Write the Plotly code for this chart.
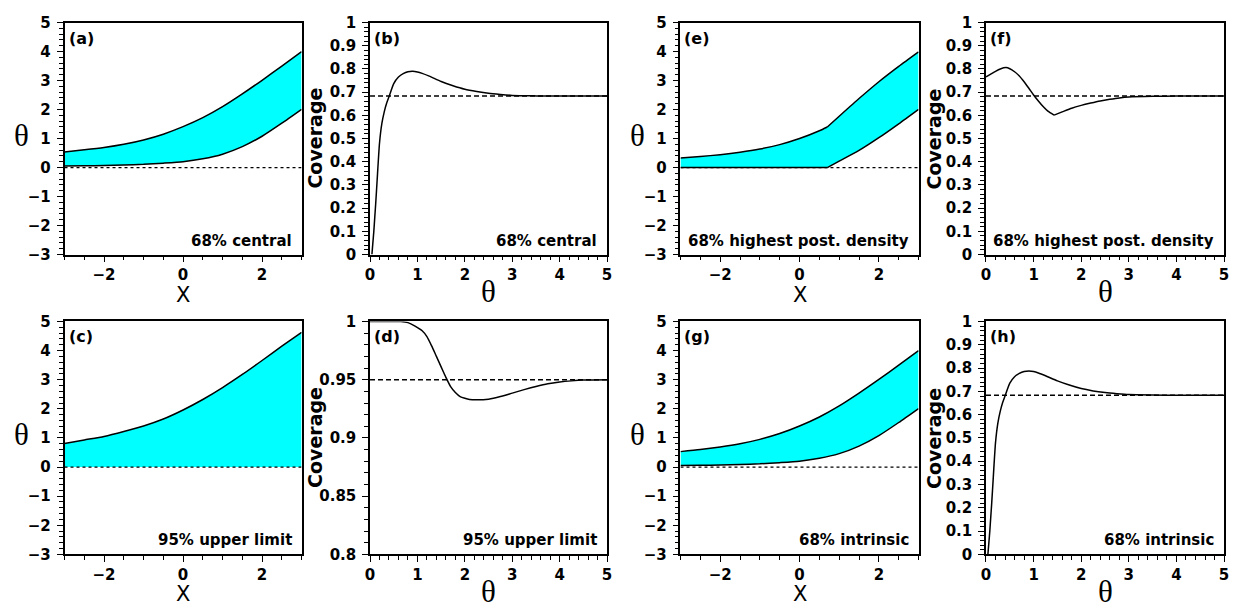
import plotly.graph_objects as go

# ---------------- data ----------------
x_band = [-3, -2.5, -2, -1.5, -1, -0.5, 0, 0.5, 1, 1.5, 2, 2.5, 3]
central_upper = [0.54, 0.61, 0.69, 0.80, 0.95, 1.15, 1.41, 1.72, 2.10, 2.54, 3.01, 3.50, 4.00]
central_lower = [0.05, 0.06, 0.07, 0.09, 0.11, 0.15, 0.20, 0.30, 0.46, 0.72, 1.08, 1.53, 2.01]

upper95 = [0.81, 0.93, 1.05, 1.22, 1.41, 1.65, 1.96, 2.32, 2.73, 3.18, 3.66, 4.15, 4.63]
upper95_lower = [0, 0, 0, 0, 0, 0, 0, 0, 0, 0, 0, 0, 0]

x_hpd = [-3, -2.5, -2, -1.5, -1, -0.5, 0, 0.5, 0.7, 1, 1.5, 2, 2.5, 3]
hpd_upper = [0.33, 0.38, 0.445, 0.53, 0.64, 0.79, 1.0, 1.27, 1.40, 1.77, 2.38, 2.96, 3.49, 3.99]
hpd_lower = [0, 0, 0, 0, 0, 0, 0, 0, 0, 0.22, 0.59, 1.03, 1.51, 2.01]

intr_upper = [0.53, 0.60, 0.69, 0.80, 0.95, 1.15, 1.41, 1.72, 2.10, 2.54, 3.01, 3.50, 4.00]
intr_lower = [0.05, 0.06, 0.07, 0.09, 0.11, 0.15, 0.20, 0.30, 0.46, 0.72, 1.08, 1.53, 2.01]

theta_cov = [0.04, 0.06, 0.08, 0.1, 0.12, 0.15, 0.2, 0.25, 0.3, 0.35, 0.4, 0.5, 0.6, 0.7, 0.8,
             0.9, 1.0, 1.1, 1.25, 1.5, 1.75, 2.0, 2.25, 2.5, 2.75, 3.0, 3.5, 4.0, 5.0]
cov_central = [0.0, 0.05, 0.10, 0.16, 0.22, 0.32, 0.48, 0.565, 0.615, 0.652, 0.68, 0.737, 0.765,
               0.78, 0.788, 0.79, 0.787, 0.781, 0.769, 0.746, 0.728, 0.713, 0.703, 0.695,
               0.69, 0.686, 0.684, 0.683, 0.683]
cov_intrinsic = [0.0, 0.05, 0.10, 0.16, 0.22, 0.32, 0.48, 0.565, 0.615, 0.652, 0.68, 0.735, 0.763,
                 0.777, 0.785, 0.787, 0.785, 0.779, 0.767, 0.745, 0.727, 0.712, 0.702, 0.695,
                 0.69, 0.686, 0.684, 0.683, 0.683]

theta_d = [0, 0.5, 0.65, 0.8, 0.95, 1.1, 1.2, 1.3, 1.4, 1.5, 1.6, 1.7, 1.8, 1.9, 2.0, 2.1,
           2.25, 2.5, 2.75, 3.0, 3.25, 3.5, 3.75, 4.0, 4.25, 4.5, 5.0]
cov_upper95 = [1, 1, 1, 0.999, 0.996, 0.992, 0.987, 0.979, 0.97, 0.961, 0.952, 0.944, 0.939,
               0.9355, 0.934, 0.933, 0.9327, 0.9333, 0.9355, 0.9385, 0.9415, 0.9442, 0.9465,
               0.948, 0.949, 0.9497, 0.95]

theta_f = [0, 0.1, 0.2, 0.3, 0.42, 0.5, 0.6, 0.7, 0.8, 0.9, 1.0, 1.1, 1.2, 1.3, 1.43,
           1.6, 1.8, 2.0, 2.2, 2.4, 2.6, 2.8, 3.0, 3.5, 4.0, 5.0]
cov_hpd = [0.766, 0.778, 0.79, 0.80, 0.806, 0.801, 0.788, 0.77, 0.745, 0.717, 0.688, 0.662,
           0.638, 0.618, 0.601, 0.615, 0.631, 0.643, 0.653, 0.662, 0.669, 0.675, 0.679,
           0.682, 0.683, 0.683]
hpd_min_theta = 1.43

nominal68 = 0.683
nominal95 = 0.95

labels = ["(a)", "(b)", "(e)", "(f)", "(c)", "(d)", "(g)", "(h)"]
texts = ["68% central", "68% central", "68% highest post. density", "68% highest post. density",
         "95% upper limit", "95% upper limit", "68% intrinsic", "68% intrinsic"]

# ---------------- layout geometry (pixels) ----------------
W, H = 1236, 609
cols = [(60, 299), (368, 607), (681, 921), (989, 1229)]
rows = [(14, 253), (322, 562)]

fig = go.Figure()

TICKFONT = dict(family="DejaVu Sans", size=15, color="black", weight="bold")
CYAN = "#00FFFF"
DASH = "5px,3px"


def axname(i):
    return "" if i == 1 else str(i)


def band(i, x, lo, hi, lo_line=True):
    n = axname(i)
    fig.add_trace(go.Scatter(x=x, y=lo, mode="lines",
                             line=dict(color="black", width=0, shape="spline", smoothing=0.6),
                             xaxis="x" + n, yaxis="y" + n, hoverinfo="skip"))
    fig.add_trace(go.Scatter(x=x, y=hi, mode="lines", fill="tonexty", fillcolor=CYAN,
                             line=dict(color="black", width=1.5, shape="spline", smoothing=0.6),
                             xaxis="x" + n, yaxis="y" + n, hoverinfo="skip"))
    fig.add_trace(go.Scatter(x=[x[0], x[-1]], y=[0, 0], mode="lines",
                             line=dict(color="black", width=1.3, dash="dot"),
                             xaxis="x" + n, yaxis="y" + n, hoverinfo="skip"))
    if lo_line:
        fig.add_trace(go.Scatter(x=x, y=lo, mode="lines",
                                 line=dict(color="black", width=1.5, shape="spline", smoothing=0.6),
                                 xaxis="x" + n, yaxis="y" + n, hoverinfo="skip"))


def band_kink(i, x, lo, hi, kink):
    n = axname(i)
    k = x.index(kink)
    fig.add_trace(go.Scatter(x=x, y=lo, mode="lines", line=dict(color="black", width=0),
                             xaxis="x" + n, yaxis="y" + n, hoverinfo="skip"))
    fig.add_trace(go.Scatter(x=x, y=hi, mode="lines", fill="tonexty", fillcolor=CYAN,
                             line=dict(color="black", width=0),
                             xaxis="x" + n, yaxis="y" + n, hoverinfo="skip"))
    fig.add_trace(go.Scatter(x=[x[0], x[-1]], y=[0, 0], mode="lines",
                             line=dict(color="black", width=1.3, dash="dot"),
                             xaxis="x" + n, yaxis="y" + n, hoverinfo="skip"))
    for arr in (lo, hi):
        for seg in (slice(0, k + 1), slice(k, None)):
            fig.add_trace(go.Scatter(x=x[seg], y=arr[seg], mode="lines",
                                     line=dict(color="black", width=1.5, shape="spline", smoothing=0.6),
                                     xaxis="x" + n, yaxis="y" + n, hoverinfo="skip"))


def coverage(i, th, cov, nominal, split=None):
    n = axname(i)
    fig.add_trace(go.Scatter(x=[0, 5], y=[nominal, nominal], mode="lines",
                             line=dict(color="black", width=1.5, dash=DASH),
                             xaxis="x" + n, yaxis="y" + n, hoverinfo="skip"))
    if split is None:
        segs = [slice(0, None)]
    else:
        k = th.index(split)
        segs = [slice(0, k + 1), slice(k, None)]
    for s in segs:
        fig.add_trace(go.Scatter(x=th[s], y=cov[s], mode="lines",
                                 line=dict(color="black", width=1.5, shape="spline", smoothing=0.6),
                                 xaxis="x" + n, yaxis="y" + n, hoverinfo="skip"))


band(1, x_band, central_lower, central_upper)
coverage(2, theta_cov, cov_central, nominal68)
band_kink(3, x_hpd, hpd_lower, hpd_upper, 0.7)
coverage(4, theta_f, cov_hpd, nominal68, split=hpd_min_theta)
band(5, x_band, upper95_lower, upper95, lo_line=False)
coverage(6, theta_d, cov_upper95, nominal95)
band(7, x_band, intr_lower, intr_upper)
coverage(8, theta_cov, cov_intrinsic, nominal68)

layout = dict(width=W, height=H, margin=dict(l=0, r=0, t=0, b=0),
              plot_bgcolor="white", paper_bgcolor="white", showlegend=False,
              hovermode=False)

annotations = []
for i in range(1, 9):
    r = 0 if i <= 4 else 1
    c = (i - 1) % 4
    l, rr = cols[c]
    t, b = rows[r]
    n = axname(i)
    is_band = c in (0, 2)
    common = dict(showline=True, linecolor="black", linewidth=1.5, mirror=True,
                  ticks="outside", ticklen=6, tickwidth=1.3, tickcolor="black",
                  showgrid=False, zeroline=False, tickfont=TICKFONT, fixedrange=True)
    xa = dict(common, domain=[l / W, rr / W], anchor="y" + n)
    ya = dict(common, domain=[1 - b / H, 1 - t / H], anchor="x" + n, ticklabelstandoff=3)
    if is_band:
        xa.update(range=[-3, 3], tick0=0, dtick=2,
                  minor=dict(dtick=0.5, ticks="outside", ticklen=4, tickwidth=1, tickcolor="black"))
        ya.update(range=[-3, 5], tick0=0, dtick=1,
                  minor=dict(dtick=0.2, ticks="outside", ticklen=4, tickwidth=1, tickcolor="black"))
    else:
        xa.update(range=[0, 5], tick0=0, dtick=1,
                  minor=dict(dtick=0.2, ticks="outside", ticklen=4, tickwidth=1, tickcolor="black"))
        if i == 6:
            ya.update(range=[0.8, 1.0], tick0=0.8, dtick=0.05,
                      minor=dict(dtick=0.01, ticks="outside", ticklen=4, tickwidth=1, tickcolor="black"))
        else:
            ya.update(range=[0, 1], tick0=0, dtick=0.1,
                      minor=dict(dtick=0.02, ticks="outside", ticklen=4, tickwidth=1, tickcolor="black"))
    layout["xaxis" + n] = xa
    layout["yaxis" + n] = ya

    xd = "x" + n + " domain"
    yd = "y" + n + " domain"
    annotations.append(dict(text=labels[i - 1], xref=xd, yref=yd, x=0, y=1, xanchor="left",
                            yanchor="top", xshift=2, yshift=-4, showarrow=False,
                            font=dict(family="DejaVu Sans", size=16, color="black", weight="bold")))
    annotations.append(dict(text=texts[i - 1], xref=xd, yref=yd, x=1, y=0, xanchor="right",
                            yanchor="middle", xshift=-8, yshift=14, showarrow=False,
                            font=dict(family="DejaVu Sans", size=15, color="black", weight="bold")))
    if is_band:
        annotations.append(dict(text="θ", xref=xd, yref=yd, x=0, y=0.5, xanchor="center",
                                yanchor="middle", xshift=-43, yshift=3, showarrow=False,
                                font=dict(family="Liberation Serif", size=31, color="black")))
        annotations.append(dict(text="X", xref=xd, yref=yd, x=0.5, y=0, xanchor="center",
                                yanchor="middle", yshift=-40, showarrow=False,
                                font=dict(family="DejaVu Sans", size=21, color="black")))
    else:
        annotations.append(dict(text="Coverage", xref=xd, yref=yd, x=0, y=0.5, xanchor="center",
                                yanchor="middle", xshift=-55 if c == 1 else -52, textangle=-90,
                                showarrow=False,
                                font=dict(family="DejaVu Sans", size=19, color="black", weight="bold")))
        annotations.append(dict(text="θ", xref=xd, yref=yd, x=0.5, y=0, xanchor="center",
                                yanchor="middle", yshift=-37, showarrow=False,
                                font=dict(family="Liberation Serif", size=31, color="black")))

layout["annotations"] = annotations
fig.update_layout(**layout)
fig.write_html("out.html")
